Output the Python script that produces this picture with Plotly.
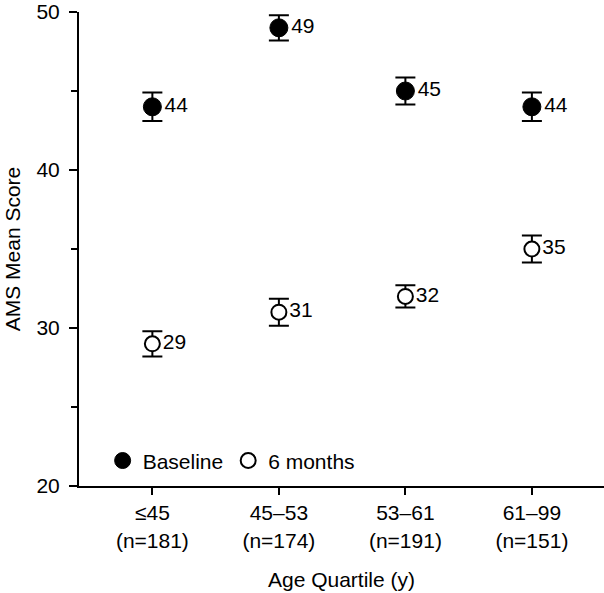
import plotly.graph_objects as go

# age quartiles (x categories)
quartiles = ["≤45<br>(n=181)", "45–53<br>(n=174)", "53–61<br>(n=191)", "61–99<br>(n=151)"]
# AMS mean scores
baseline = [44, 49, 45, 44]
baseline_err = [0.9, 0.8, 0.85, 0.9]
six_months = [29, 31, 32, 35]
six_months_err = [0.8, 0.85, 0.7, 0.85]

font = "Liberation Sans, Arial, sans-serif"
xpos = list(range(len(quartiles)))

fig = go.Figure()

fig.add_trace(go.Scatter(
    x=xpos, y=baseline, name="Baseline",
    mode="markers+text", text=[str(v) for v in baseline],
    textposition="middle right", textfont=dict(size=21, color="black", family=font),
    marker=dict(size=18, color="black", line=dict(color="black", width=1)),
    error_y=dict(type="data", array=baseline_err, color="black", thickness=2, width=10),
))
fig.add_trace(go.Scatter(
    x=xpos, y=six_months, name="6 months",
    mode="markers+text", text=[str(v) for v in six_months],
    textposition="middle right", textfont=dict(size=21, color="black", family=font),
    marker=dict(size=15, color="white", line=dict(color="black", width=2)),
    error_y=dict(type="data", array=six_months_err, color="black", thickness=2, width=10),
))

fig.update_layout(
    width=604, height=593,
    margin=dict(l=79, r=0, t=12, b=107),
    paper_bgcolor="white", plot_bgcolor="white",
    font=dict(family=font, size=21, color="black"),
    showlegend=True,
    legend=dict(orientation="h", x=0.045, y=0.053, xanchor="left", yanchor="middle",
                font=dict(size=21), bgcolor="rgba(0,0,0,0)", itemwidth=30),
)
fig.update_xaxes(
    range=[-0.58, 3.57], tickvals=xpos, ticktext=quartiles,
    showline=True, linecolor="black", linewidth=2,
    ticks="outside", ticklen=7, tickwidth=2, tickcolor="black",
    showgrid=False, zeroline=False,
    tickfont=dict(size=21),
    title=dict(text="Age Quartile (y)", font=dict(size=21), standoff=22),
)
fig.update_yaxes(
    range=[20, 50], tickvals=[20, 30, 40, 50],
    showline=True, linecolor="black", linewidth=2,
    ticks="outside", ticklen=8, tickwidth=2, tickcolor="black",
    minor=dict(tickvals=[25, 35, 45], ticks="outside", ticklen=6, tickwidth=2, tickcolor="black"),
    showgrid=False, zeroline=False,
    tickfont=dict(size=21), ticklabelstandoff=5,
    title=dict(text="AMS Mean Score", font=dict(size=21), standoff=10),
)

fig.write_html("out.html", config={"displayModeBar": False},
               post_script="document.body.style.margin='0';")
